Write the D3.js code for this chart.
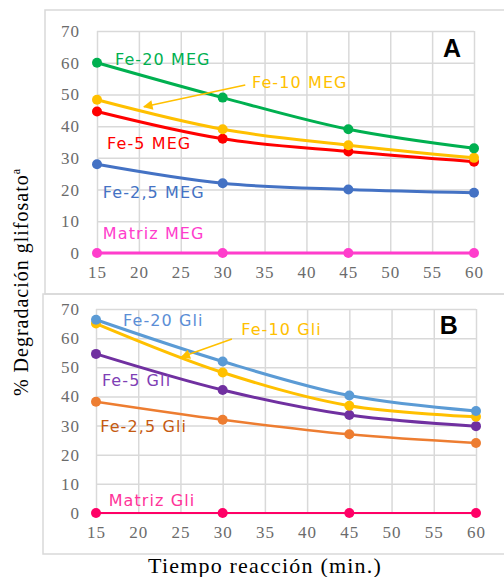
<!DOCTYPE html>
<html>
<head>
<meta charset="utf-8">
<script src="https://cdn.jsdelivr.net/npm/d3@7"></script>
<style>
  html, body { margin: 0; padding: 0; background: #ffffff; }
  svg { display: block; }
</style>
</head>
<body>
<svg id="chart" width="504" height="577"></svg>
<script>
// ---------------- DATA ----------------
const times = [15, 30, 45, 60];
const xTickValues = [15, 20, 25, 30, 35, 40, 45, 50, 55, 60];
const yTickValues = [0, 10, 20, 30, 40, 50, 60, 70];

const namesA = ["Matriz MEG", "Fe-2,5 MEG", "Fe-5 MEG", "Fe-10 MEG", "Fe-20 MEG"];
const matrizMEG = [0, 0, 0, 0];
const fe25MEG = [28, 22, 20, 19];
const fe5MEG = [44.6, 36, 32, 28.8];
const fe10MEG = [48.3, 39, 34, 30];
const fe20MEG = [60, 49, 39, 33];

const namesB = ["Matriz Gli", "Fe-2,5 Gli", "Fe-5 Gli", "Fe-10 Gli", "Fe-20 Gli"];
const matrizGli = [0, 0, 0, 0];
const fe25Gli = [38.2, 32, 27, 24];
const fe5Gli = [54.6, 42.2, 33.6, 29.8];
const fe10Gli = [65, 48.2, 36.8, 33];
const fe20Gli = [66.3, 52, 40.3, 35];

const panelLetters = ["A", "B"];
const xTitle = "Tiempo reacción (min.)";
const yTitle = "% Degradación glifosato";
const yTitleSup = "a";

// ---------------- STYLE / LAYOUT ----------------
const lineColorsA = ["#FF3DCC", "#4472C4", "#FF0000", "#FFC000", "#00B050"];
const labelColorsA = ["#FF3DCC", "#4472C4", "#FF0000", "#FFC000", "#00B050"];
const lineColorsB = ["#FF0066", "#ED7D31", "#7030A0", "#FFC000", "#5B9BD5"];
const labelColorsB = ["#FF3399", "#C55A11", "#7F3FB5", "#FFC000", "#5B8ED6"];
const lineWidthsA = [3, 3, 3, 3, 3];
const lineWidthsB = [2.2, 2.5, 3, 3, 3];

// label anchor positions in data units [x, y]
const labelPosA = [[15.7, 4.5], [15.7, 17.4], [16.2, 32.8], [33.5, 52.0], [17.15, 59.3]];
const labelPosB = [[16.5, 2.3], [15.5, 27.8], [15.7, 43.5], [32.2, 61.0], [18.2, 64.2]];
const arrowA = [[32.7, 53.0], [20.6, 46.1]];
const arrowB = [[31.1, 59.7], [25.1, 53.5]];
const letterPosA = [56.3, 61.8];
const letterPosB = [55.7, 61.4];

const panels = [
  { x0: 97, x1: 474, y0: 253, y1: 31, box: [45, 10, 504, 294],
    names: namesA, values: [matrizMEG, fe25MEG, fe5MEG, fe10MEG, fe20MEG],
    colors: lineColorsA, labelColors: labelColorsA, widths: lineWidthsA,
    labelPos: labelPosA, arrow: arrowA, letter: panelLetters[0], letterPos: letterPosA },
  { x0: 96, x1: 476, y0: 513, y1: 309, box: [43, 294, 504, 554],
    names: namesB, values: [matrizGli, fe25Gli, fe5Gli, fe10Gli, fe20Gli],
    colors: lineColorsB, labelColors: labelColorsB, widths: lineWidthsB,
    labelPos: labelPosB, arrow: arrowB, letter: panelLetters[1], letterPos: letterPosB }
];

const svg = d3.select("#chart");

// arrow marker
svg.append("defs").append("marker")
  .attr("id", "arrowhead")
  .attr("viewBox", "0 0 10 10")
  .attr("refX", 9).attr("refY", 5)
  .attr("markerWidth", 7).attr("markerHeight", 6)
  .attr("markerUnits", "strokeWidth")
  .attr("orient", "auto")
  .append("path").attr("d", "M0,0 L10,5 L0,10 Z").attr("fill", "#FFC000");

panels.forEach((p) => {
  const g = svg.append("g");
  // panel frame
  g.append("path")
    .attr("d", `M${p.box[2]},${p.box[1]} L${p.box[0]},${p.box[1]} L${p.box[0]},${p.box[3]} L${p.box[2]},${p.box[3]}`)
    .attr("fill", "none").attr("stroke", "#d9d9d9").attr("stroke-width", 1.5);

  const x = d3.scaleLinear().domain([15, 60]).range([p.x0, p.x1]);
  const y = d3.scaleLinear().domain([0, 70]).range([p.y0, p.y1]);

  // grid
  const gx = g.append("g").attr("transform", `translate(0,${p.y0})`)
    .call(d3.axisBottom(x).tickValues(xTickValues).tickSize(-(p.y0 - p.y1)).tickFormat(""));
  const gy = g.append("g").attr("transform", `translate(${p.x0},0)`)
    .call(d3.axisLeft(y).tickValues(yTickValues).tickSize(-(p.x1 - p.x0)).tickFormat(""));
  [gx, gy].forEach(a => {
    a.select(".domain").remove();
    a.selectAll(".tick line").attr("stroke", "#d9d9d9").attr("stroke-width", 1.5);
  });

  // tick labels
  const lx = g.append("g").attr("transform", `translate(0,${p.y0})`)
    .call(d3.axisBottom(x).tickValues(xTickValues).tickSize(0).tickPadding(13));
  const ly = g.append("g").attr("transform", `translate(${p.x0},0)`)
    .call(d3.axisLeft(y).tickValues(yTickValues).tickSize(0).tickPadding(p.x0 - 80));
  [lx, ly].forEach(a => {
    a.select(".domain").remove();
    a.selectAll(".tick text")
      .attr("fill", "#6b6b6b")
      .style("font-family", "'Liberation Serif', 'Times New Roman', serif")
      .style("font-size", "17px")
      .style("letter-spacing", "1px");
  });

  // series
  const line = d3.line()
    .x((d, i) => x(times[i]))
    .y(d => y(d))
    .curve(d3.curveCatmullRom.alpha(0.5));

  p.values.forEach((vals, si) => {
    g.append("path")
      .datum(vals)
      .attr("d", line)
      .attr("fill", "none")
      .attr("stroke", p.colors[si])
      .attr("stroke-width", p.widths[si]);
    g.selectAll(null).data(vals).enter().append("circle")
      .attr("cx", (d, i) => x(times[i]))
      .attr("cy", d => y(d))
      .attr("r", 5)
      .attr("fill", p.colors[si]);
  });

  // series labels
  p.names.forEach((name, si) => {
    g.append("text")
      .attr("x", x(p.labelPos[si][0]))
      .attr("y", y(p.labelPos[si][1]))
      .attr("fill", p.labelColors[si])
      .style("font-family", "'DejaVu Sans', sans-serif")
      .style("font-size", "16px")
      .style("letter-spacing", "1.1px")
      .text(name);
  });

  // arrow
  g.append("line")
    .attr("x1", x(p.arrow[0][0])).attr("y1", y(p.arrow[0][1]))
    .attr("x2", x(p.arrow[1][0])).attr("y2", y(p.arrow[1][1]))
    .attr("stroke", "#FFC000").attr("stroke-width", 1.6)
    .attr("marker-end", "url(#arrowhead)");

  // panel letter
  g.append("text")
    .attr("x", x(p.letterPos[0]))
    .attr("y", y(p.letterPos[1]))
    .attr("fill", "#000")
    .style("font-family", "'Liberation Sans', Arial, sans-serif")
    .style("font-weight", "bold")
    .style("font-size", "25px")
    .text(p.letter);
});

// axis titles
svg.append("text")
  .attr("x", 265).attr("y", 573)
  .attr("text-anchor", "middle")
  .attr("fill", "#000")
  .style("font-family", "'Liberation Serif', 'Times New Roman', serif")
  .style("font-size", "22px")
  .style("letter-spacing", "1.2px")
  .text(xTitle);

const yt = svg.append("text")
  .attr("transform", "translate(28,282) rotate(-90)")
  .attr("text-anchor", "middle")
  .attr("fill", "#000")
  .style("font-family", "'Liberation Serif', 'Times New Roman', serif")
  .style("font-size", "20px")
  .style("letter-spacing", "1px");
yt.append("tspan").text(yTitle);
yt.append("tspan").attr("dy", -8).style("font-size", "12px").text(yTitleSup);
</script>
</body>
</html>
